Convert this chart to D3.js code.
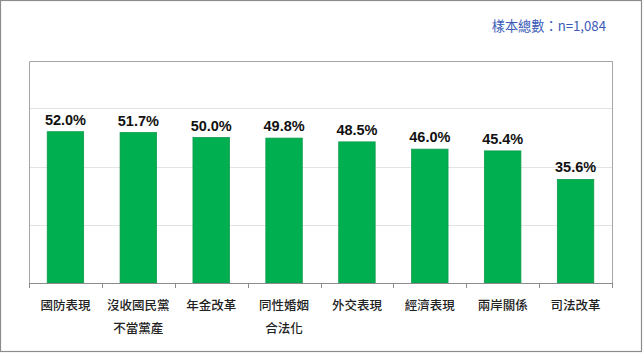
<!DOCTYPE html>
<html>
<head>
<meta charset="utf-8">
<script src="https://cdn.jsdelivr.net/npm/d3@7"></script>
<style>
  body { margin: 0; background: #fff; }
  svg { display: block; }
</style>
</head>
<body>
<svg id="chart"></svg>
<script>
// data
var categories = ["國防表現", "沒收國民黨\n不當黨產", "年金改革", "同性婚姻\n合法化", "外交表現", "經濟表現", "兩岸關係", "司法改革"]
var values = [52.0, 51.7, 50.0, 49.8, 48.5, 46.0, 45.4, 35.6]
var gridTicks = [20, 40, 60]
var sampleNote = "樣本總數：n=1,084"

var width = 644
var height = 353
var cjk = "'Noto Sans CJK TC', 'Noto Sans CJK SC', sans-serif"

var svg = d3.select("#chart")
    .attr("width", width)
    .attr("height", height)

var plot = {left: 29, right: 612, top: 61, bottom: 283}

var x = d3.scaleBand()
    .domain(d3.range(categories.length))
    .range([plot.left, plot.right])
    .paddingInner(0.5)
    .paddingOuter(0.25)

var y = d3.scaleLinear()
    .domain([0, 76.3])
    .range([plot.bottom, plot.top])

// outer frame
svg.append("rect")
    .attr("x", 0.5).attr("y", 0.5)
    .attr("width", 641).attr("height", 351)
    .attr("fill", "#fff")
    .attr("stroke", "#8c8c8c")
    .attr("stroke-width", 1.2)

// gridlines
svg.selectAll(".grid")
    .data(gridTicks)
    .enter()
    .append("line")
    .attr("x1", plot.left).attr("x2", plot.right)
    .attr("y1", d => Math.round(y(d)) + 0.5)
    .attr("y2", d => Math.round(y(d)) + 0.5)
    .attr("stroke", "#e3e3e3")

// plot area box (no bottom side, the axis takes it)
svg.append("path")
    .attr("d", "M" + (plot.left + 0.5) + "," + plot.bottom + "V" + (plot.top + 0.5) + "H" + (plot.right + 0.5) + "V" + plot.bottom)
    .attr("fill", "none")
    .attr("stroke", "#a6a6a6")

// bars
svg.selectAll(".bar")
    .data(values)
    .enter()
    .append("rect")
    .attr("x", (d, i) => x(i))
    .attr("y", d => y(d))
    .attr("width", x.bandwidth())
    .attr("height", d => plot.bottom - y(d))
    .attr("fill", "#00b050")
    .attr("stroke", "#0c9a4a")
    .attr("stroke-width", 0.8)

// x axis with ticks at band edges
var edges = d3.range(categories.length + 1).map(i => plot.left + i * x.step())
svg.append("line")
    .attr("x1", plot.left).attr("x2", plot.right + 1)
    .attr("y1", plot.bottom + 0.5).attr("y2", plot.bottom + 0.5)
    .attr("stroke", "#8c8c8c")
svg.selectAll(".tick")
    .data(edges)
    .enter()
    .append("line")
    .attr("x1", d => Math.round(d) + 0.5).attr("x2", d => Math.round(d) + 0.5)
    .attr("y1", plot.bottom).attr("y2", plot.bottom + 5)
    .attr("stroke", "#8c8c8c")

// value labels
svg.selectAll(".val")
    .data(values)
    .enter()
    .append("text")
    .attr("x", (d, i) => x(i) + x.bandwidth() / 2)
    .attr("y", d => y(d) - 7)
    .attr("text-anchor", "middle")
    .style("font-family", "'Liberation Sans', Arial, sans-serif")
    .style("font-weight", "bold")
    .style("font-size", "14.5px")
    .attr("fill", "#111")
    .text(d => d.toFixed(1) + "%")

// category labels
var cat = svg.selectAll(".cat")
    .data(categories)
    .enter()
    .append("text")
    .attr("text-anchor", "middle")
    .style("font-family", cjk)
    .style("font-size", "12.5px")
    .style("font-weight", "500")
    .attr("fill", "#222")
cat.each(function (d, i) {
    var lines = d.split("\n")
    var t = d3.select(this)
    lines.forEach(function (ln, j) {
        t.append("tspan")
            .attr("x", x(i) + x.bandwidth() / 2)
            .attr("y", 309.5 + j * 23)
            .text(ln)
    })
})

// sample note
svg.append("text")
    .attr("x", 606)
    .attr("y", 31)
    .attr("text-anchor", "end")
    .style("font-family", cjk)
    .style("font-size", "13.2px")
    .attr("fill", "#3a5cb8")
    .text(sampleNote)
</script>
</body>
</html>
